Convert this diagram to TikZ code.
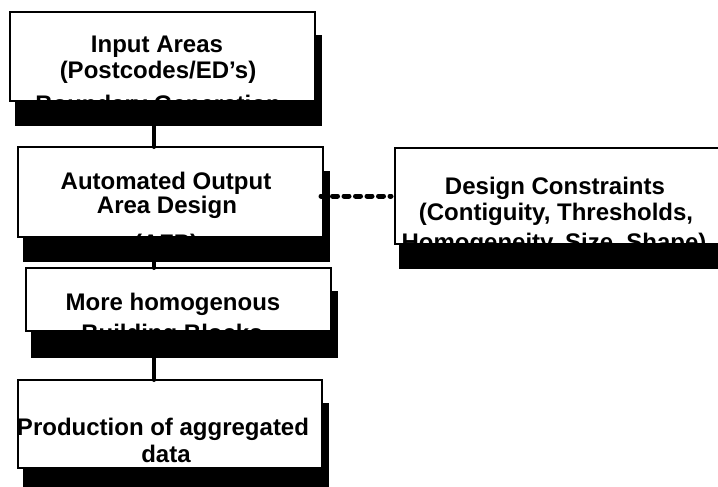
\documentclass[tikz,border=0pt]{standalone}
\usepackage{fontspec}
\setmainfont{Liberation Sans}
\begin{document}
\begin{tikzpicture}[x=1pt,y=-1pt,
  box/.style={draw=black, line width=1.2pt, fill=white, anchor=north west, inner sep=0pt, outer sep=0pt},
  shad/.style={fill=black, anchor=north west, inner sep=0pt, outer sep=0pt},
  txt/.style={font=\fontsize{24}{26}\selectfont\bfseries, anchor=base, inner sep=0pt, text=black},
  conn/.style={line width=4pt, line cap=round},
  dconn/.style={line width=5pt, line cap=round, dash pattern=on 5pt off 6.5pt}]
\useasboundingbox (0,0) rectangle (718,487);
\clip (0,0) rectangle (718,487);
% shadows
\node[shad, minimum width=307pt, minimum height=91pt] (s1) at (15,35) {};
\node[shad, minimum width=307pt, minimum height=91pt] (s2) at (23,171) {};
\node[shad, minimum width=330pt, minimum height=97pt] (s3) at (399,172) {};
\node[shad, minimum width=307pt, minimum height=67pt] (s4) at (31,291) {};
\node[shad, minimum width=306pt, minimum height=89pt] (s5) at (23,403) {};
% boxes
\node[box, minimum width=305pt, minimum height=89pt] (b1) at (10,12) {};
\node[box, minimum width=305pt, minimum height=90pt] (b2) at (18,147) {};
\node[box, minimum width=330pt, minimum height=96pt] (b3) at (395,148) {};
\node[box, minimum width=305pt, minimum height=63pt] (b4) at (26,268) {};
\node[box, minimum width=304pt, minimum height=88pt] (b5) at (18,380) {};
% texts
\node[txt] (t1a) at (157,53) {Input Areas};
\node[txt] (t1b) at (158,78) {(Postcodes/ED’s)};
\node[txt] (t1c) at (158,112) {Boundary Generation};
\node[txt] (t2a) at (166,189) {Automated Output};
\node[txt] (t2b) at (167,213) {Area Design};
\node[txt] (t2c) at (166,251) {(AZP)};
\node[txt] (t3a) at (555,194) {Design Constraints};
\node[txt] (t3b) at (556,220) {(Contiguity, Thresholds,};
\node[txt] (t3c) at (554,250) {Homogeneity, Size, Shape)};
\node[txt] (t4a) at (173,310) {More homogenous};
\node[txt] (t4b) at (172,341) {Building Blocks};
\node[txt] (t5a) at (163,435) {Production of aggregated};
\node[txt] (t5b) at (166,462) {data};
% connectors
\coordinate (sp) at (154,0);
\coordinate (dl) at (0,196);
\draw[conn] (s1.south -| sp) -- (b2.north -| sp);
\draw[conn] (s2.south -| sp) -- (b4.north -| sp);
\draw[conn] (s4.south -| sp) -- (b5.north -| sp);
\draw[dconn] ([xshift=-2pt]b2.east |- dl) -- ([xshift=-4pt]b3.west |- dl);
\end{tikzpicture}
\end{document}
